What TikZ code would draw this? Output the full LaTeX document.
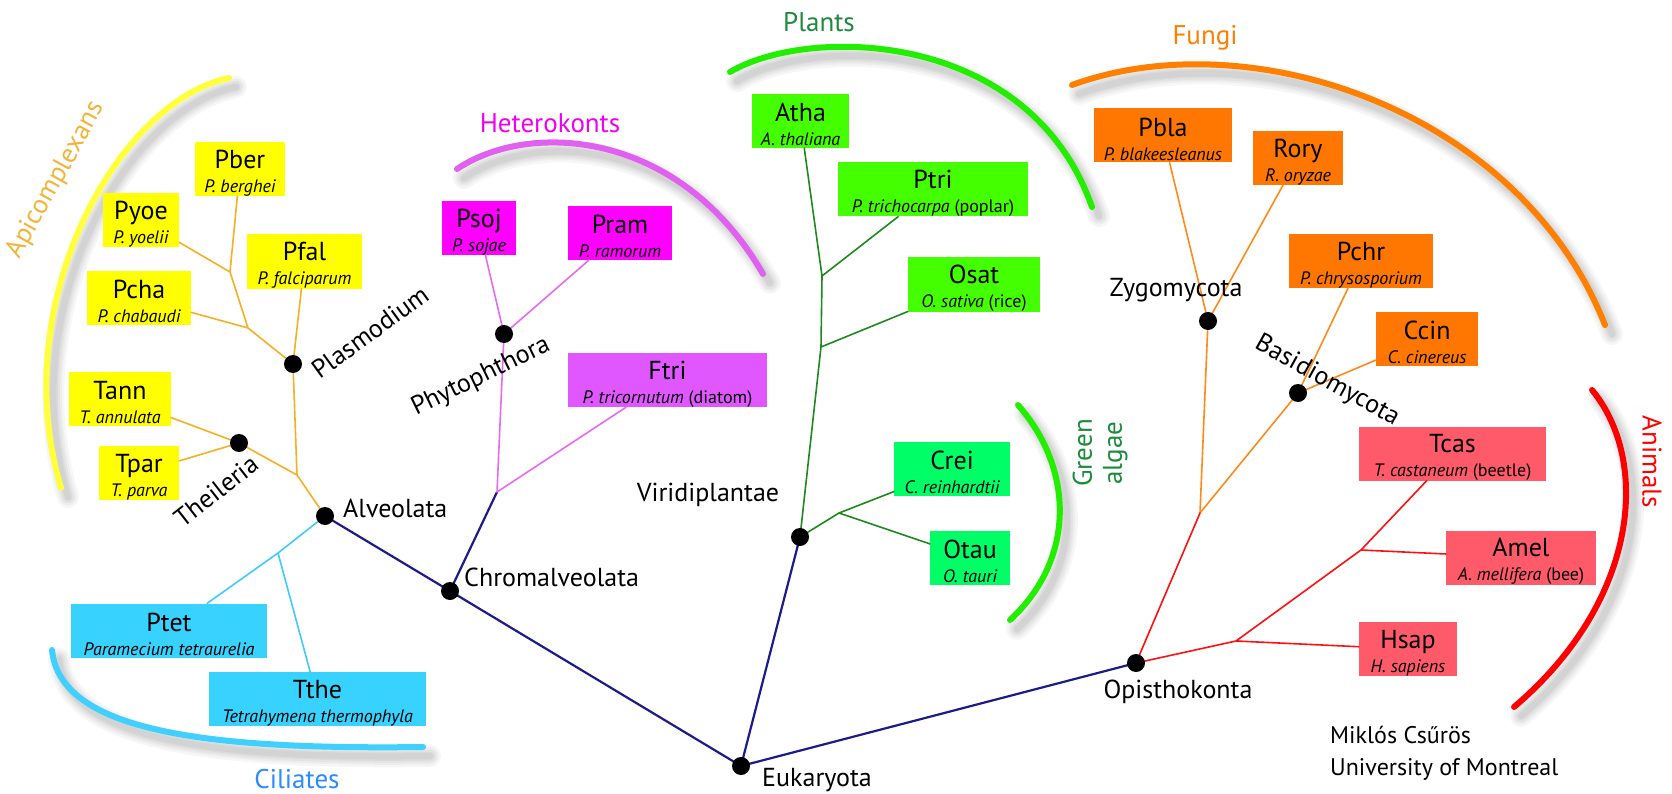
\documentclass[tikz,border=0pt]{standalone}
\usepackage{fontspec}
\setmainfont{PT Sans}
\usetikzlibrary{positioning}
\definecolor{backbone}{HTML}{1C1C88}
\definecolor{apiline}{HTML}{F7B024}
\definecolor{apibox}{HTML}{FFFF00}
\definecolor{apiarc}{HTML}{FFFF3C}
\definecolor{apitext}{HTML}{F2B53A}
\definecolor{cililine}{HTML}{3FCBFF}
\definecolor{cilibox}{HTML}{38D2FF}
\definecolor{ciliarc}{HTML}{3FD0FF}
\definecolor{cilitext}{HTML}{2B8CFF}
\definecolor{hetline}{HTML}{E56CF2}
\definecolor{hetbox}{HTML}{FF00FF}
\definecolor{hetboxlight}{HTML}{E157FF}
\definecolor{hetarc}{HTML}{E060F0}
\definecolor{hettext}{HTML}{F000F0}
\definecolor{plantline}{HTML}{1E8A1E}
\definecolor{plantbox}{HTML}{44FF00}
\definecolor{plantarc}{HTML}{22EE00}
\definecolor{planttext}{HTML}{1E8B3C}
\definecolor{algabox}{HTML}{00FF66}
\definecolor{fungline}{HTML}{FF8A1A}
\definecolor{fungbox}{HTML}{FF7700}
\definecolor{fungarc}{HTML}{FF7F00}
\definecolor{animline}{HTML}{FF1010}
\definecolor{animbox}{HTML}{FF5A69}
\definecolor{animarc}{HTML}{FF0000}
\newcommand{\treedotsize}{9pt}
\tikzset{
  branch/.style={line width=1.6pt},
  stem/.style={line width=2.2pt,draw=backbone},
  taxon/.style={align=center,inner sep=0pt,minimum height=54pt,font=\fontsize{26}{24}\selectfont},
  clade label/.style={font=\fontsize{26}{28}\selectfont,inner sep=1pt},
  group label/.style={font=\fontsize{27}{30}\selectfont,inner sep=1pt},
  arc shadow/.style={preaction={draw=black,opacity=.035,line width=#1,line cap=round,
    transform canvas={shift={(7,9)}}}},
  group arc/.style={line width=6pt,line cap=round,
    arc shadow=22pt,arc shadow=17pt,arc shadow=13pt,arc shadow=9pt,arc shadow=6pt}
}
\newcommand{\Taxon}[2]{\rule{0pt}{26pt}#1\\{\fontsize{18}{18}\selectfont #2}}
\newcommand{\TreeDot}[1]{\fill (#1) circle (\treedotsize);}

\begin{document}
\begin{tikzpicture}[x=1pt,y=-1pt,line cap=round,line join=round]
  \useasboundingbox[fill=white] (0,0) rectangle (1672,794);

  % Clade brackets.
  \draw[group arc,apiarc]   (229,78) .. controls (120,100) and (5,300) .. (61,488);
  \draw[group arc,hetarc]   (457,169) .. controls (530,120) and (680,130) .. (763,274);
  \draw[group arc,plantarc] (730,72) .. controls (810,25) and (1030,30) .. (1092,207);
  \draw[group arc,fungarc]  (1072,85) .. controls (1250,20) and (1520,110) .. (1605,325);
  \draw[group arc,plantarc] (1018,405) .. controls (1075,470) and (1075,560) .. (1010,620);
  \draw[group arc,animarc]  (1592,390) .. controls (1650,460) and (1640,600) .. (1514,707);
  \draw[group arc,ciliarc]  (52,650) .. controls (60,730) and (200,750) .. (423,747);

  % Inner nodes of the tree.
  \coordinate (alv)   at (325,516);
  \coordinate (chrom) at (450,591);
  \coordinate (euk)   at (741,766);
  \coordinate (viri)  at (800,537);
  \coordinate (opis)  at (1136,663);
  \coordinate (zygo)  at (1208,321);
  \coordinate (basi)  at (1298,393);
  \coordinate (phyt)  at (504,334);
  \coordinate (plas)  at (293,364);
  \coordinate (thei)  at (239,443);
  \coordinate (apij)  at (297,475);
  \coordinate (pchaj) at (248,328);
  \coordinate (pyoej) at (230,272);
  \coordinate (cilj)  at (278,553);
  \coordinate (hetj)  at (497,492);
  \coordinate (ptrij) at (822,276);
  \coordinate (osatj) at (821,347);
  \coordinate (algj)  at (839,513);
  \coordinate (fungj) at (1200,513);
  \coordinate (hsapj) at (1236,641);
  \coordinate (amelj) at (1361,550);

  % Leaves.
  \node[taxon,fill=apibox,minimum width=90pt]  (pber) at (240,169)   {\Taxon{Pber}{\itshape P. berghei}};
  \node[taxon,fill=apibox,minimum width=76pt]  (pyoe) at (141,220)   {\Taxon{Pyoe}{\itshape P. yoelii}};
  \node[taxon,fill=apibox,minimum width=115pt] (pfal) at (304.5,261.5) {\Taxon{Pfal}{\itshape P. falciparum}};
  \node[taxon,fill=apibox,minimum width=104pt] (pcha) at (139,298)   {\Taxon{Pcha}{\itshape P. chabaudi}};
  \node[taxon,fill=apibox,minimum width=102pt] (tann) at (120,398.5) {\Taxon{Tann}{\itshape T. annulata}};
  \node[taxon,fill=apibox,minimum width=80pt]  (tpar) at (139,473)   {\Taxon{Tpar}{\itshape T. parva}};
  \node[taxon,fill=cilibox,minimum width=196pt] (ptet) at (169,630.5) {\Taxon{Ptet}{\itshape Paramecium tetraurelia}};
  \node[taxon,fill=cilibox,minimum width=217pt] (tthe) at (317.5,699) {\Taxon{Tthe}{\itshape Tetrahymena thermophyla}};
  \node[taxon,fill=hetbox,minimum width=74pt]  (psoj) at (479,228)   {\Taxon{Psoj}{\itshape P. sojae}};
  \node[taxon,fill=hetbox,minimum width=104pt] (pram) at (620,233)   {\Taxon{Pram}{\itshape P. ramorum}};
  \node[taxon,fill=hetboxlight,minimum width=199pt] (ftri) at (667.5,380) {\Taxon{Ftri}{\textit{P. tricornutum} (diatom)}};
  \node[taxon,fill=plantbox,minimum width=97pt]  (atha) at (800.5,121) {\Taxon{Atha}{\itshape A. thaliana}};
  \node[taxon,fill=plantbox,minimum width=190pt] (ptri) at (933,189.5) {\Taxon{Ptri}{\textit{P. trichocarpa} (poplar)}};
  \node[taxon,fill=plantbox,minimum width=132pt] (osat) at (974,284.5) {\Taxon{Osat}{\textit{O. sativa} (rice)}};
  \node[taxon,fill=algabox,minimum width=116pt]  (crei) at (952,469)   {\Taxon{Crei}{\itshape C. reinhardtii}};
  \node[taxon,fill=algabox,minimum width=80pt]   (otau) at (970,557.5) {\Taxon{Otau}{\itshape O. tauri}};
  \node[taxon,fill=fungbox,minimum width=138pt] (pbla) at (1163,135.5) {\Taxon{Pbla}{\itshape P. blakeesleanus}};
  \node[taxon,fill=fungbox,minimum width=90pt]  (rory) at (1298,158)   {\Taxon{Rory}{\itshape R. oryzae}};
  \node[taxon,fill=fungbox,minimum width=144pt] (pchr) at (1361,261)   {\Taxon{Pchr}{\itshape P. chrysosporium}};
  \node[taxon,fill=fungbox,minimum width=102pt] (ccin) at (1427,338.5) {\Taxon{Ccin}{\itshape C. cinereus}};
  \node[taxon,fill=animbox,minimum width=187pt] (tcas) at (1452.5,453.5) {\Taxon{Tcas}{\textit{T. castaneum} (beetle)}};
  \node[taxon,fill=animbox,minimum width=150pt] (amel) at (1521,557.5) {\Taxon{Amel}{\textit{A. mellifera} (bee)}};
  \node[taxon,fill=animbox,minimum width=98pt]  (hsap) at (1408,649)   {\Taxon{Hsap}{\itshape H. sapiens}};

  % Branches.
  \draw[stem] (alv)--(chrom) (chrom)--(euk) (chrom)--(hetj)
        (euk)--(viri) (euk)--(opis);
  \draw[branch,apiline] (alv)--(apij) (apij)--(plas) (apij)--(thei)
        (plas)--(pfal) (plas)--(pchaj) (pchaj)--(pcha)
        (pchaj)--(pyoej) (pyoej)--(pyoe) (pyoej)--(pber)
        (thei)--(tann) (thei)--(tpar);
  \draw[branch,cililine] (alv)--(cilj) (cilj)--(ptet) (cilj)--(tthe);
  \draw[branch,hetline] (hetj)--(phyt) (hetj)--(ftri) (phyt)--(psoj) (phyt)--(pram);
  \draw[branch,plantline] (viri)--(osatj) (osatj)--(ptrij) (ptrij)--(atha)
        (ptrij)--(ptri) (osatj)--(osat)
        (viri)--(algj) (algj)--(crei) (algj)--(otau);
  \draw[branch,fungline] (fungj)--(zygo) (fungj)--(basi)
        (zygo)--(pbla) (zygo)--(rory) (basi)--(pchr) (basi)--(ccin);
  \draw[branch,animline] (opis)--(fungj) (opis)--(hsapj) (hsapj)--(hsap)
        (hsapj)--(amelj) (amelj)--(amel) (amelj)--(tcas);
  \foreach \p in {alv,chrom,euk,viri,opis,zygo,basi,phyt,plas,thei} {\TreeDot{\p}}

  % Clade names.
  \node[clade label,anchor=west] (alvlab)   at (342,508) {Alveolata};
  \node[clade label,anchor=west] (chromlab) at (463,577) {Chromalveolata};
  \node[clade label] (virilab) at (708,495) {Viridiplantae};
  \node[clade label,anchor=west] (euklab) at (761,780) {Eukaryota};
  \node[clade label] (opislab) at (1178,692) {Opisthokonta};
  \node[clade label] (zygolab) at (1176,290) {Zygomycota};
  \node[clade label,rotate=-29] (basilab) at (1327,381) {Basidiomycota};
  \node[clade label,rotate=26] (phytlab) at (481,377) {Phytophthora};
  \node[clade label,rotate=36] (plaslab) at (370,332) {Plasmodium};
  \node[clade label,rotate=38] (theilab) at (216,491) {Theileria};

  % Group names.
  \node[group label,apitext,rotate=61] (apilab) at (56,180) {Apicomplexans};
  \node[group label,hettext] (hetlab) at (550,123) {Heterokonts};
  \node[group label,planttext] (plantlab) at (819,22) {Plants};
  \node[group label,fungarc] (funglab) at (1205,38) {Fungi};
  \node[group label,planttext,align=center,rotate=90] (algalab) at (1100,453) {Green\\algae};
  \node[group label,animarc,rotate=-90] (animlab) at (1652,462) {Animals};
  \node[group label,cilitext] (cililab) at (297,779) {Ciliates};
  \node[anchor=west,align=left,inner sep=0pt,font=\fontsize{24}{32}\selectfont] (author) at (1330,753)
        {Miklós Csűrös\\University of Montreal};
\end{tikzpicture}
\end{document}
